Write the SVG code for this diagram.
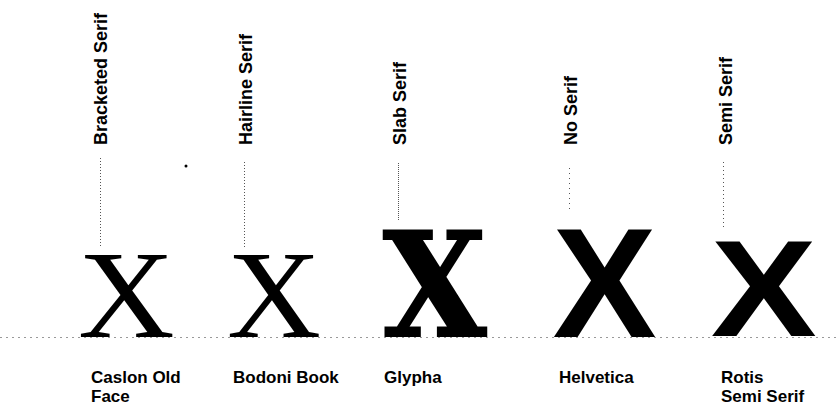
<svg xmlns="http://www.w3.org/2000/svg" width="840" height="407" viewBox="0 0 840 407">
<style>
.lbl{font-family:"Liberation Sans",Arial,sans-serif;font-weight:bold;font-size:18px;fill:#000}
.name{font-family:"Liberation Sans",Arial,sans-serif;font-weight:bold;font-size:17px;fill:#000}
.lead{stroke:#555;stroke-width:1;stroke-dasharray:1 2;fill:none}
.base{stroke:#999;stroke-width:1;stroke-dasharray:2 4;fill:none}
.x{fill:#000}
</style>
<rect width="840" height="407" fill="#fff"/>
<g id="connectors">
<line class="base" x1="0" y1="337.5" x2="840" y2="337.5"/>
<line class="lead" x1="100.5" y1="158" x2="100.5" y2="248"/>
<line class="lead" x1="244.5" y1="162" x2="244.5" y2="248"/>
<line class="lead" x1="398.5" y1="163" x2="398.5" y2="220" style="stroke-dasharray:1 1"/>
<line class="lead" x1="569.5" y1="168" x2="569.5" y2="212" style="stroke-dasharray:1 4"/>
<line class="lead" x1="723.5" y1="162" x2="723.5" y2="228" style="stroke-dasharray:1 3"/>
</g>
<circle cx="186" cy="166" r="1.5" fill="#000"/>
<g id="caslon">
<text class="lbl" x="107" y="145" transform="rotate(-90 107 145)">Bracketed Serif</text>
<text class="x" transform="translate(79,337) scale(1.08,1)" x="-1" y="0" style="font-family:'Liberation Serif','Times New Roman',serif;font-size:124px">X</text>
<text class="name" x="91" y="383">Caslon Old</text>
<text class="name" x="91" y="402">Face</text>
</g>
<g id="bodoni">
<text class="lbl" x="252" y="145" transform="rotate(-90 252 145)">Hairline Serif</text>
<text class="x" transform="translate(228,337) scale(1.05,1)" x="-1" y="0" style="font-family:'Liberation Serif','Times New Roman',serif;font-size:124px">X</text>
<text class="name" x="233" y="383">Bodoni Book</text>
</g>
<g id="glypha">
<text class="lbl" x="406" y="145" transform="rotate(-90 406 145)">Slab Serif</text>
<text class="x" transform="translate(384,336) scale(0.92,1)" x="-1" y="0" style="font-family:'DejaVu Serif',serif;font-weight:bold;font-size:145px;stroke:#000;stroke-width:2">X</text>
<text class="name" x="384" y="383">Glypha</text>
</g>
<g id="helvetica">
<text class="lbl" x="577" y="145" transform="rotate(-90 577 145)">No Serif</text>
<text class="x" transform="translate(553.6,337) scale(1.0,1)" x="-1" y="0" style="font-family:'Liberation Sans',Arial,sans-serif;font-weight:bold;font-size:156px">X</text>
<text class="name" x="559" y="383">Helvetica</text>
</g>
<g id="rotis">
<text class="lbl" x="732" y="145" transform="rotate(-90 732 145)">Semi Serif</text>
<text class="x" transform="translate(711.8,336) scale(1.16,1)" x="-1" y="0" style="font-family:'Liberation Sans',Arial,sans-serif;font-weight:bold;font-size:137px">X</text>
<text class="name" x="721" y="383">Rotis</text>
<text class="name" x="721" y="402">Semi Serif</text>
</g>
</svg>
